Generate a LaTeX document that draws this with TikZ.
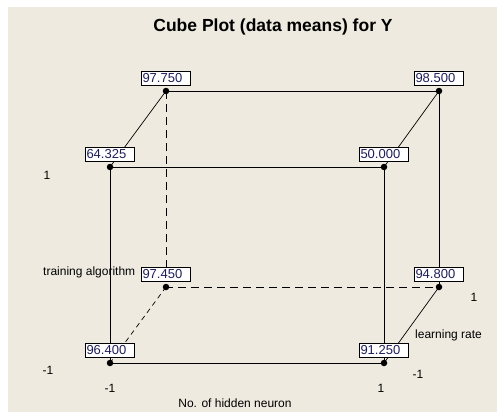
\documentclass[tikz,border=0pt]{standalone}
\usepackage{fontspec}
\setmainfont{Liberation Sans}
\usetikzlibrary{positioning}
\definecolor{panel}{HTML}{EEEAE0}
\definecolor{valtext}{HTML}{1E1E5A}

\begin{document}
\begin{tikzpicture}[x=1pt,y=-1pt,
        corner/.style={circle,fill=black,inner sep=0pt,minimum size=6.5pt},
        val/.style={draw,fill=white,text=valtext,font=\fontsize{13}{13}\selectfont,
            inner sep=1pt,text width=47pt,align=left,minimum height=13.5pt},
        axis/.style={font=\fontsize{12}{12}\selectfont,inner sep=0pt},
        edge/.style={line width=0.7pt},
        hidden/.style={edge,dash pattern=on 8pt off 5pt},
        hiddenslant/.style={edge,dash pattern=on 5pt off 4pt}]

    \useasboundingbox (0,0) rectangle (497,412);
    \fill[panel] (8,7) rectangle (497,412);

    \node[font=\fontsize{17.5}{17.5}\selectfont\bfseries] (title) at (273,27) {Cube Plot (data means) for Y};

    % corners of the cube
    \node[corner] (lll) at (110,363) {};
    \node[corner] (hll) at (384,363) {};
    \node[corner] (lhl) at (110,167) {};
    \node[corner] (hhl) at (384,167) {};
    \node[corner] (llh) at (166,287) {};
    \node[corner] (hlh) at (439,287) {};
    \node[corner] (lhh) at (166,91) {};
    \node[corner] (hhh) at (439,91) {};

    % front face
    \draw[edge] (lll.center) -- (hll.center) -- (hhl.center) -- (lhl.center) -- cycle;
    % back face
    \draw[edge] (lhh.center) -- (hhh.center) -- (hlh.center);
    \draw[hidden] (lhh.center) -- (llh.center) -- (hlh.center);
    % depth edges
    \draw[edge] (lhh.center) -- (lhl.center);
    \draw[edge] (hhh.center) -- (hhl.center);
    \draw[edge] (hlh.center) -- (hll.center);
    \draw[hiddenslant] (llh.center) -- (lll.center);

    % means
    \node[val,above=2.5pt of lll] (vlll) {96.400};
    \node[val,above=2.5pt of hll] (vhll) {91.250};
    \node[val,above=2.5pt of lhl] (vlhl) {64.325};
    \node[val,above=2.5pt of hhl] (vhhl) {50.000};
    \node[val,above=2.5pt of llh] (vllh) {97.450};
    \node[val,above=2.5pt of hlh] (vhlh) {94.800};
    \node[val,above=2.5pt of lhh] (vlhh) {97.750};
    \node[val,above=2.5pt of hhh] (vhhh) {98.500};

    % factor levels
    \node[axis] (tahi) at (47,175) {1};
    \node[axis,anchor=west] (ta) at (43,272) {training algorithm};
    \node[axis] (talo) at (48,370) {-1};
    \node[axis] (hnlo) at (110,388) {-1};
    \node[axis] (hnhi) at (381,388) {1};
    \node[axis] (hn) at (235,403) {No. of hidden neuron};
    \node[axis] (lrhi) at (474,297) {1};
    \node[axis,anchor=west] (lr) at (415,335) {learning rate};
    \node[axis] (lrlo) at (418,374) {-1};

\end{tikzpicture}
\end{document}
